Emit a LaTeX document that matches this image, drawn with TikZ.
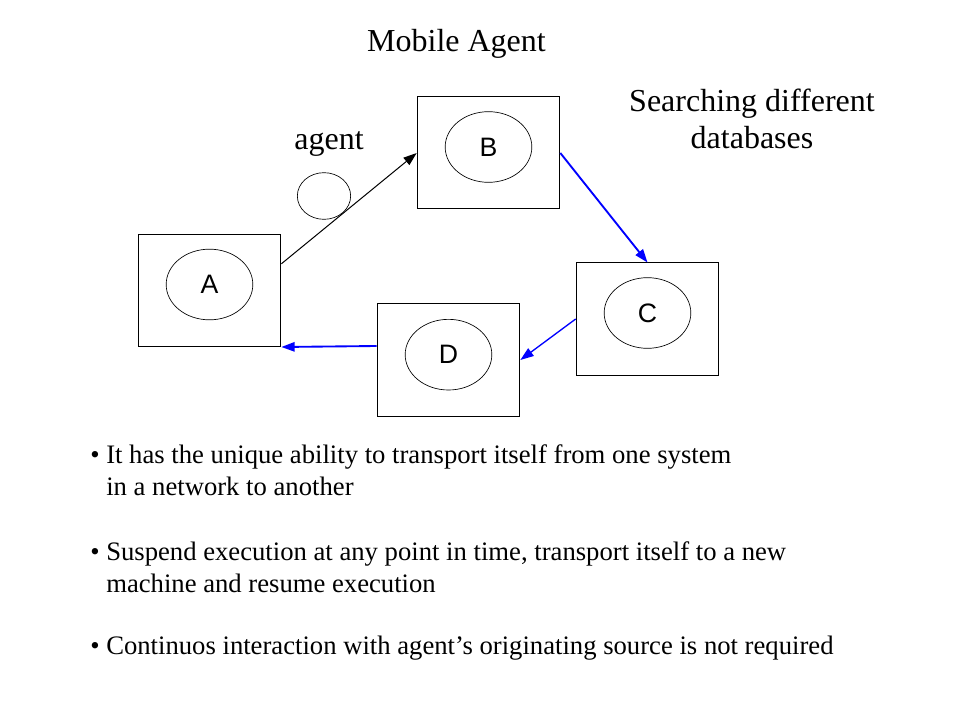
\documentclass[tikz,border=0pt]{standalone}
\usepackage{fontspec}
\setmainfont{Liberation Serif}
\newfontfamily\arialfont{Liberation Sans}
\usetikzlibrary{arrows.meta,shapes.geometric,positioning}

\tikzset{
  host/.style={draw,line width=0.75pt,minimum width=107pt,minimum height=84pt,inner sep=0pt},
  disc/.style={draw,ellipse,line width=0.5pt,minimum width=65pt,minimum height=53pt,inner sep=0pt,font=\arialfont\fontsize{20}{22}\selectfont},
  hop/.style={line width=1.4pt,blue,-{Triangle[length=10pt,width=7pt]}},
  lbl/.style={font=\fontsize{24}{28}\selectfont,inner sep=0pt},
  bul/.style={font=\fontsize{20}{24}\selectfont,inner sep=0pt,anchor=base west,align=left}
}

\begin{document}
\begin{tikzpicture}[x=0.75pt,y=-0.75pt]
    \useasboundingbox (0,0) rectangle (960,720);

    \node[lbl] (title) at (456.5,44) {Mobile Agent};
    \node[lbl,align=center] (search) at (752,119) {Searching different\\databases};
    \node[lbl] (agentlbl) at (329,144) {agent};

    \node[host] (boxA) at (209.5,290.5) {};
    \node[host] (boxB) at (488.5,153) {};
    \node[host] (boxC) at (647.5,319) {};
    \node[host] (boxD) at (448.5,360) {};

    \node[disc] (elA) at ([yshift=4.5pt]boxA.center) {A};
    \node[disc] (elB) at ([yshift=4.5pt]boxB.center) {B};
    \node[disc] (elC) at ([yshift=4.5pt]boxC.center) {C};
    \node[disc] (elD) at ([yshift=4pt]boxD.center) {D};

    \node[draw,ellipse,line width=0.5pt,minimum width=40pt,minimum height=35pt,inner sep=0pt] (agent) at (324,196) {};

    \draw[line width=0.75pt,-{Triangle[length=10pt,width=7pt]}] ([yshift=20pt]boxA.east) -- (boxB.west);
    \draw[hop] (boxB.east) -- (boxC.north);
    \draw[hop,line width=1pt] (boxC.west) -- (boxD.east);
    \draw[hop] ([yshift=10.5pt]boxD.west) -- (boxA.south east);

    \node[bul] (pt1) at (90,495) {\textbullet\ It has the unique ability to transport itself from one system\\\phantom{\textbullet\ }in a network to another};
    \node[bul] (pt2) at (90,592) {\textbullet\ Suspend execution at any point in time, transport itself to a new\\\phantom{\textbullet\ }machine and resume execution};
    \node[bul] (pt3) at (90,654) {\textbullet\ Continuos interaction with agent’s originating source is not required};
  \end{tikzpicture}
\end{document}
